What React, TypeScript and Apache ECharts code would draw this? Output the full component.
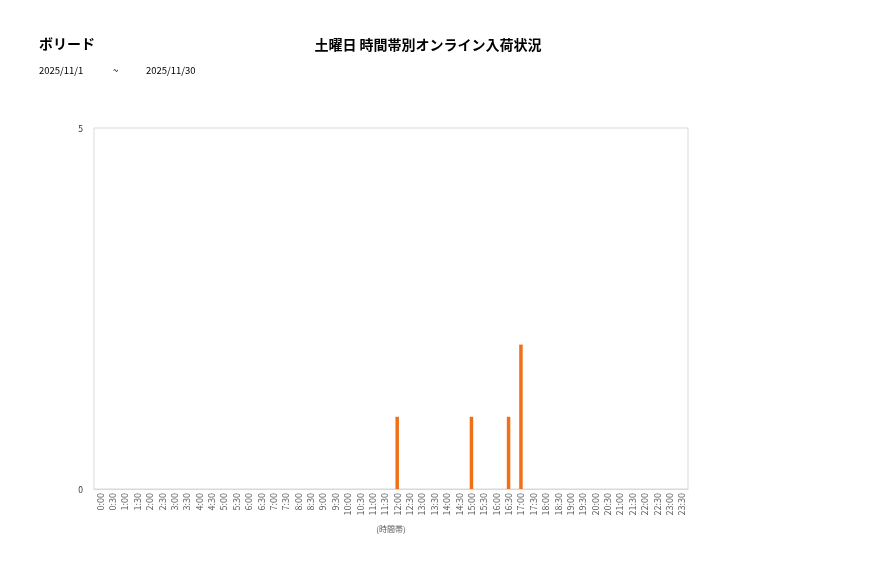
import React, { useEffect, useRef } from "react";
import * as echarts from "echarts";

const storeName = "ボリード";
const chartTitle = "土曜日 時間帯別オンライン入荷状況";
const dateFrom = "2025/11/1";
const dateSep = "~";
const dateTo = "2025/11/30";
const xAxisName = "(時間帯)";

const timeSlots: string[] = [
  "0:00","0:30","1:00","1:30","2:00","2:30","3:00","3:30","4:00","4:30","5:00","5:30",
  "6:00","6:30","7:00","7:30","8:00","8:30","9:00","9:30","10:00","10:30","11:00","11:30",
  "12:00","12:30","13:00","13:30","14:00","14:30","15:00","15:30","16:00","16:30","17:00","17:30",
  "18:00","18:30","19:00","19:30","20:00","20:30","21:00","21:30","22:00","22:30","23:00","23:30",
];

const arrivals: number[] = [
  0,0,0,0,0,0,0,0,0,0,0,0,
  0,0,0,0,0,0,0,0,0,0,0,0,
  1,0,0,0,0,0,1,0,0,1,2,0,
  0,0,0,0,0,0,0,0,0,0,0,0,
];

const yMin = 0;
const yMax = 5;
const yInterval = 5;

export default function App() {
  const ref = useRef<HTMLDivElement>(null);
  useEffect(() => {
    if (!ref.current) return;
    const chart = echarts.init(ref.current, undefined, { renderer: "svg" });
    const font = "'Noto Sans CJK JP', 'Noto Sans', sans-serif";
    chart.setOption({
      animation: false,
      textStyle: { fontFamily: font },
      graphic: [
        { type: "text", x: 39, y: 43, style: { text: storeName, fontSize: 14, fontWeight: "bold", fill: "#000", fontFamily: font, verticalAlign: "middle" } },
        { type: "text", x: 428, y: 44, style: { text: chartTitle, fontSize: 14, fontWeight: "bold", fill: "#000", fontFamily: font, align: "center", verticalAlign: "middle" } },
        { type: "text", x: 39, y: 70, style: { text: dateFrom, fontSize: 9.5, fill: "#000", fontFamily: font, verticalAlign: "middle" } },
        { type: "text", x: 113, y: 70, style: { text: dateSep, fontSize: 9.5, fill: "#000", fontFamily: font, verticalAlign: "middle" } },
        { type: "text", x: 146, y: 70, style: { text: dateTo, fontSize: 9.5, fill: "#000", fontFamily: font, verticalAlign: "middle" } },
      ],
      grid: {
        left: 94,
        right: 189,
        top: 128,
        bottom: 89,
        show: true,
        borderColor: "#d9d9d9",
        borderWidth: 1,
        backgroundColor: "#fff",
      },
      xAxis: {
        type: "category",
        data: timeSlots,
        boundaryGap: true,
        name: xAxisName,
        nameLocation: "middle",
        nameGap: 35,
        nameTextStyle: { fontSize: 8, color: "#595959", fontFamily: font },
        axisLine: { show: true, lineStyle: { color: "#d9d9d9" } },
        axisTick: { show: false },
        axisLabel: {
          interval: 0,
          rotate: 90,
          fontSize: 9,
          color: "#595959",
          margin: 4,
          fontFamily: font,
        },
      },
      yAxis: {
        type: "value",
        min: yMin,
        max: yMax,
        interval: yInterval,
        axisLine: { show: false },
        axisTick: { show: false },
        splitLine: { show: false },
        axisLabel: { fontSize: 8.5, color: "#333", margin: 11, fontFamily: font },
      },
      series: [
        {
          type: "bar",
          data: arrivals,
          barWidth: 3.5,
          itemStyle: { color: "#f07018" },
        },
      ],
    });
    return () => chart.dispose();
  }, []);
  return (
    <div
      ref={ref}
      style={{ position: "fixed", left: 0, top: 0, width: 877, height: 578 }}
    />
  );
}
